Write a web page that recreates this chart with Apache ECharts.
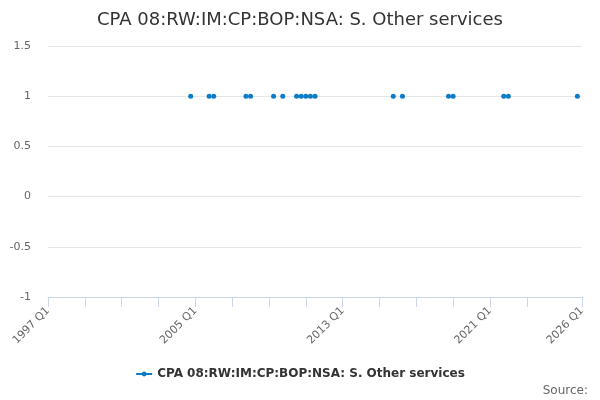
<!DOCTYPE html>
<html>
<head>
<meta charset="utf-8">
<script src="https://cdn.jsdelivr.net/npm/echarts@6/dist/echarts.min.js"></script>
<style>
html,body{margin:0;padding:0;background:#fff;}
#chart{width:600px;height:400px;}
</style>
</head>
<body>
<div id="chart"></div>
<script>
// Category range (quarters)
const startYear = 1997;
const endYear = 2026; // ends at 2026 Q1
const titleText = 'CPA 08:RW:IM:CP:BOP:NSA: S. Other services';
const seriesName = 'CPA 08:RW:IM:CP:BOP:NSA: S. Other services';

const obsQuarters = ['2004 Q4','2005 Q4','2006 Q1','2007 Q4','2008 Q1','2009 Q2','2009 Q4',
  '2010 Q3','2010 Q4','2011 Q1','2011 Q2','2011 Q3','2015 Q4','2016 Q2','2018 Q4','2019 Q1',
  '2021 Q4','2022 Q1','2025 Q4'];
const obsValues = [1,1,1,1,1,1,1,1,1,1,1,1,1,1,1,1,1,1,1];

// Y axis ticks
const yMin = -1, yMax = 1.5, yStep = 0.5;

const categories = [];
for (let y = startYear; y <= endYear; y++) {
  for (let q = 1; q <= 4; q++) {
    categories.push(y + ' Q' + q);
    if (y === endYear) break;
  }
}
const lastIdx = categories.length - 1;
const valueMap = {};
obsQuarters.forEach((q, i) => { valueMap[q] = obsValues[i]; });
const seriesData = categories.map(c => (c in valueMap ? valueMap[c] : null));

const chart = echarts.init(document.getElementById('chart'));
chart.setOption({
  animation: false,
  backgroundColor: '#fff',
  title: {
    text: titleText,
    left: 'center',
    top: 6,
    textStyle: { fontFamily: 'DejaVu Sans', fontSize: 18, fontWeight: 'normal', color: '#333' }
  },
  grid: { left: 48, right: 18, top: 46, bottom: 103, containLabel: false },
  legend: {
    bottom: 15,
    left: 'center',
    itemWidth: 16,
    itemHeight: 6,
    itemGap: 6,
    data: [{ name: seriesName }],
    textStyle: { fontFamily: 'DejaVu Sans', fontSize: 12, fontWeight: 'bold', color: '#333' },
    lineStyle: { width: 2, opacity: 1, color: '#0b7dc6' }
  },
  graphic: [{
    type: 'text',
    right: 12,
    bottom: 3,
    style: { text: 'Source:', font: '12px "DejaVu Sans"', fill: '#666' }
  }],
  xAxis: {
    type: 'category',
    data: categories,
    boundaryGap: false,
    axisLine: { onZero: false, lineStyle: { color: '#ccd6eb' } },
    axisTick: {
      length: 10,
      lineStyle: { color: '#ccd6eb' },
      interval: (i) => (i % 8 === 0 && i <= lastIdx - 12) || i === lastIdx
    },
    axisLabel: {
      rotate: 45,
      margin: 12,
      color: '#666',
      fontFamily: 'DejaVu Sans',
      fontSize: 11,
      interval: (i) => i % 32 === 0 || i === lastIdx
    },
    splitLine: { show: false }
  },
  yAxis: {
    type: 'value',
    min: yMin,
    max: yMax,
    interval: yStep,
    axisLine: { show: false },
    axisTick: { show: false },
    axisLabel: { color: '#666', fontFamily: 'DejaVu Sans', fontSize: 11, margin: 17 },
    splitLine: { lineStyle: { color: '#e6e6e6' } }
  },
  series: [{
    name: seriesName,
    type: 'line',
    data: seriesData,
    connectNulls: false,
    symbol: 'circle',
    symbolSize: 5,
    showAllSymbol: true,
    itemStyle: { color: '#0b7dc6' },
    lineStyle: { width: 0, opacity: 0, color: '#0b7dc6' }
  }]
});
</script>
</body>
</html>
